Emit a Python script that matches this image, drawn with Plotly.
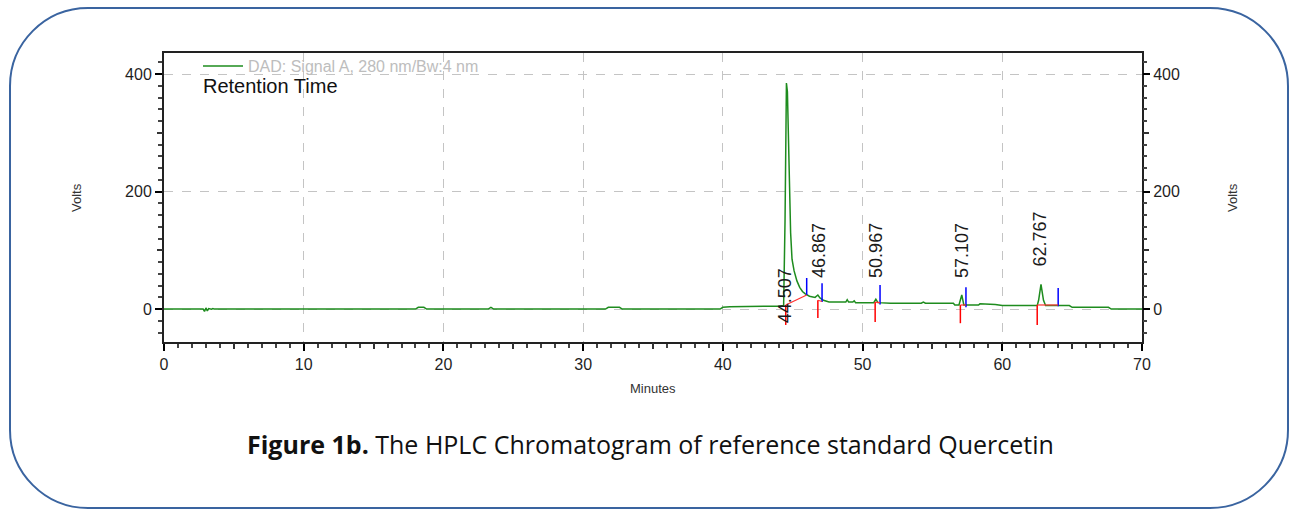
import plotly.graph_objects as go

# ---------------- data ----------------
time_min = [0, 2.8, 2.9, 3.0, 3.1, 3.2, 3.4, 3.5, 3.6, 4.0, 4.1,
            18.0, 18.2, 18.6, 18.8, 23.2, 23.4, 23.6, 31.6, 31.8, 32.6, 32.8,
            39.8, 40.0, 40.3, 40.5, 44.0, 44.35, 44.45, 44.55, 44.62, 44.72, 44.85,
            44.95, 45.1, 45.3, 45.5, 45.7, 45.9, 46.2, 46.6, 46.8, 46.95, 47.2,
            47.6, 48.0, 48.8, 48.9, 49.0, 49.3, 49.4, 49.5, 50.8, 50.95, 51.1,
            52.0, 54.2, 54.35, 54.5, 56.5, 56.6, 56.9, 57.1, 57.25, 58.3, 58.4,
            59.5, 60.0, 62.5, 62.6, 62.77, 62.95, 63.1, 64.8, 65.0, 67.6, 67.8, 70]
signal_volts = [0, 0, -4, 2, -3, 1, 0, 1, 0, -1, 0,
                0, 3, 3, 0, 0, 3, 0, 0, 3, 3, 0,
                0, 3, 3, 4, 5, 6, 150, 385, 370, 250, 130,
                85, 65, 48, 37, 30, 26, 22, 20, 24, 19, 15,
                12, 12, 12, 16, 12, 12, 14, 11, 11, 17, 11,
                10, 10, 12, 10, 10, 7, 7, 24, 7, 7, 9,
                8, 6, 6, 15, 42, 15, 6, 6, 3, 3, 0, 0]

peak_labels = ["44.507", "46.867", "50.967", "57.107", "62.767"]
peak_times = [44.507, 46.867, 50.967, 57.107, 62.767]
label_base = [-27, 50, 49, 50, 70]

blue_x = [46.0, 47.1, 51.25, 57.4, 64.0]
blue_top = [53, 44, 41, 37, 36]
blue_bottom = [24, 12, 8, 3, 5]

red_x = [44.5, 46.8, 50.9, 57.0, 62.5]
red_top = [7, 15, 12, 7, 7]
red_bottom = [-27, -15, -22, -24, -27]

base_x0 = [44.5, 46.8, 50.9, 57.0, 62.5]
base_y0 = [7, 15, 12, 7, 7]
base_x1 = [46.0, 47.1, 51.25, 57.4, 64.0]
base_y1 = [24, 13, 11, 7, 7]

x_major = [0, 10, 20, 30, 40, 50, 60, 70]
x_mid = [5, 15, 25, 35, 45, 55, 65]
y_major = [0, 200, 400]
y_mid = [100, 300]

legend_name = "DAD: Signal A, 280 nm/Bw:4 nm"
caption_bold = "Figure 1b."
caption_rest = " The HPLC Chromatogram of reference standard Quercetin"

# ---------------- geometry helpers ----------------
W, H = 1291, 509
PL, PR, PT, PB = 164, 1142, 53, 342


def xp(px):
    return (px - PL) / (PR - PL)


def yp(py):
    return (PB - py) / (PB - PT)


def segs(xs0, ys0, xs1, ys1):
    X, Y = [], []
    for a, b, c, d in zip(xs0, ys0, xs1, ys1):
        X += [a, c, None]
        Y += [b, d, None]
    return X, Y


FONT = "Liberation Sans, Arial, sans-serif"

fig = go.Figure()

fig.add_trace(go.Scatter(x=time_min, y=signal_volts, mode="lines", name=legend_name,
                         line=dict(color="#1e8c1e", width=1.5), showlegend=True))

bx, by = segs(blue_x, blue_top, blue_x, blue_bottom)
fig.add_trace(go.Scatter(x=bx, y=by, mode="lines", line=dict(color="#0000ff", width=1.5),
                         showlegend=False, hoverinfo="skip"))
rx, ry = segs(red_x, red_top, red_x, red_bottom)
fig.add_trace(go.Scatter(x=rx, y=ry, mode="lines", line=dict(color="#ff0000", width=1.5),
                         showlegend=False, hoverinfo="skip"))
lx, ly = segs(base_x0, base_y0, base_x1, base_y1)
fig.add_trace(go.Scatter(x=lx, y=ly, mode="lines", line=dict(color="#ff3030", width=1.2),
                         showlegend=False, hoverinfo="skip"))

for t, lab, yb in zip(peak_times, peak_labels, label_base):
    fig.add_annotation(x=t, y=yb, text=lab, textangle=-90, showarrow=False,
                       xanchor="center", yanchor="bottom",
                       font=dict(family=FONT, size=18, color="#1a1a1a"))


def txt(px, py, text, size, color, family=FONT, angle=0, xanchor="center"):
    fig.add_annotation(x=xp(px), y=yp(py), xref="paper", yref="paper", text=text,
                       textangle=angle, showarrow=False, xanchor=xanchor, yanchor="middle",
                       font=dict(family=family, size=size, color=color))


txt(76, 198, "Volts", 13, "#333", angle=-90)
txt(1232, 198, "Volts", 13, "#333", angle=-90)
txt(653, 388, "Minutes", 13, "#333")
txt(201, 86, "Retention Time", 20, "#111", xanchor="left")
txt(650, 444, "<b>" + caption_bold + "</b>" + caption_rest, 25, "#111",
    family="Open Sans, Noto Sans, sans-serif")

# rounded frame
x0, x1, y0, y1, r = 10, 1288, 8, 508, 78
k = 0.5523 * r


def P(px, py):
    return f"{xp(px):.5f},{yp(py):.5f}"


path = (f"M {P(x0 + r, y0)} L {P(x1 - r, y0)} "
        f"C {P(x1 - r + k, y0)} {P(x1, y0 + r - k)} {P(x1, y0 + r)} "
        f"L {P(x1, y1 - r)} C {P(x1, y1 - r + k)} {P(x1 - r + k, y1)} {P(x1 - r, y1)} "
        f"L {P(x0 + r, y1)} C {P(x0 + r - k, y1)} {P(x0, y1 - r + k)} {P(x0, y1 - r)} "
        f"L {P(x0, y0 + r)} C {P(x0, y0 + r - k)} {P(x0 + r - k, y0)} {P(x0 + r, y0)} Z")
fig.add_shape(type="path", path=path, xref="paper", yref="paper",
              line=dict(color="#3a64a0", width=2), layer="above")

xr = [0, 70]
yr = [-56, 436]
tickfont = dict(family=FONT, size=16, color="#1f1f1f")

fig.update_layout(
    width=W, height=H, autosize=False,
    margin=dict(l=PL, r=W - PR, t=PT, b=H - PB, pad=0),
    paper_bgcolor="white", plot_bgcolor="white",
    showlegend=True,
    legend=dict(x=xp(198), y=yp(49), xanchor="left", yanchor="top",
                bgcolor="rgba(0,0,0,0)", borderwidth=0, tracegroupgap=0,
                font=dict(family=FONT, size=16, color="#bdbdbd"), itemwidth=40),
    xaxis=dict(range=xr, tickvals=x_major, ticks="outside", ticklen=7, tickwidth=1.5,
               tickcolor="black", showline=True, linecolor="#222", linewidth=2, mirror=True,
               showgrid=True, gridcolor="#c4c4c4", griddash="dash", gridwidth=1,
               zeroline=False, tickfont=tickfont,
               minor=dict(dtick=1, tick0=0, ticks="outside", ticklen=4, tickcolor="#444", showgrid=False)),
    xaxis2=dict(range=xr, overlaying="x", anchor="y", side="bottom", tickvals=x_mid,
                ticks="outside", ticklen=6, tickwidth=1.5, tickcolor="#333",
                showticklabels=False, showgrid=False, zeroline=False, showline=False),
    yaxis=dict(range=yr, tickvals=y_major, ticks="outside", ticklen=7, tickwidth=1.5,
               tickcolor="black", showline=True, linecolor="#222", linewidth=2, mirror=True,
               showgrid=True, gridcolor="#c4c4c4", griddash="dash", gridwidth=1,
               zeroline=False, tickfont=tickfont,
               minor=dict(dtick=20, tick0=0, ticks="outside", ticklen=4, tickcolor="#444", showgrid=False)),
    yaxis2=dict(range=yr, overlaying="y", anchor="x", side="right", tickvals=y_major,
                ticks="outside", ticklen=7, tickwidth=1.5, tickcolor="black",
                showgrid=False, zeroline=False, showline=False, tickfont=tickfont,
                minor=dict(dtick=20, tick0=0, ticks="outside", ticklen=4, tickcolor="#444", showgrid=False)),
    yaxis3=dict(range=yr, overlaying="y", anchor="x", side="left", tickvals=y_mid,
                ticks="outside", ticklen=6, tickwidth=1.5, tickcolor="#333",
                showticklabels=False, showgrid=False, zeroline=False, showline=False),
    yaxis4=dict(range=yr, overlaying="y", anchor="x", side="right", tickvals=y_mid,
                ticks="outside", ticklen=6, tickwidth=1.5, tickcolor="#333",
                showticklabels=False, showgrid=False, zeroline=False, showline=False),
)

# empty traces so that overlay axes are instantiated
fig.add_trace(go.Scatter(x=[], y=[], xaxis="x2", yaxis="y", showlegend=False))
fig.add_trace(go.Scatter(x=[], y=[], xaxis="x", yaxis="y2", showlegend=False))
fig.add_trace(go.Scatter(x=[], y=[], xaxis="x", yaxis="y3", showlegend=False))
fig.add_trace(go.Scatter(x=[], y=[], xaxis="x", yaxis="y4", showlegend=False))

fig.write_html("out.html")
